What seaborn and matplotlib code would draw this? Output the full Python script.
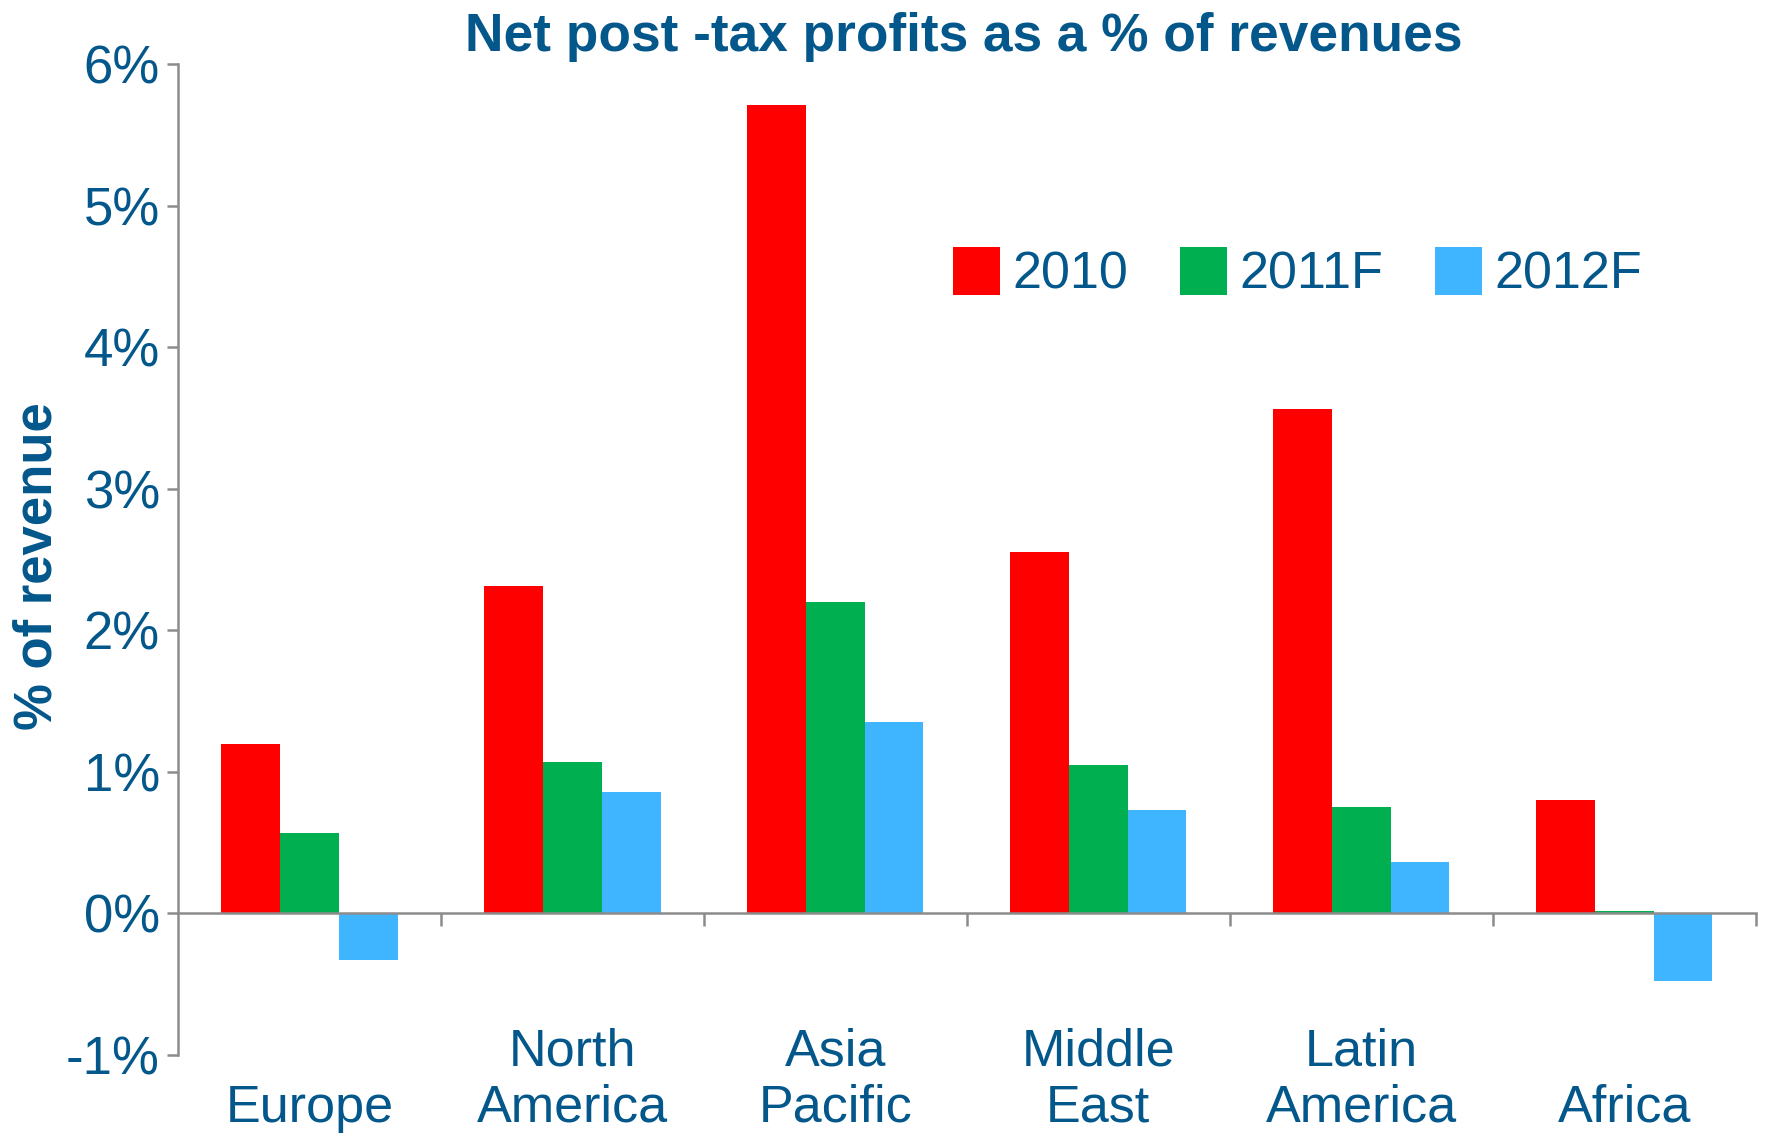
import numpy as np
import pandas as pd
import seaborn as sns
import matplotlib.pyplot as plt

# values (% of revenue)
regions = ['Europe', 'North America', 'Asia Pacific', 'Middle East', 'Latin America', 'Africa']
region_labels = ['\nEurope', 'North\nAmerica', 'Asia\nPacific', 'Middle\nEast', 'Latin\nAmerica', '\nAfrica']
years = ['2010', '2011F', '2012F']
profit_2010 = [1.20, 2.31, 5.71, 2.55, 3.56, 0.80]
profit_2011 = [0.57, 1.07, 2.20, 1.05, 0.75, 0.02]
profit_2012 = [-0.33, 0.86, 1.35, 0.73, 0.36, -0.48]
y_ticks = [-1, 0, 1, 2, 3, 4, 5, 6]
y_tick_labels = [f'{v}%' for v in y_ticks]

colors = {'2010': '#FF0000', '2011F': '#00B050', '2012F': '#40B5FF'}
text_color = '#03578B'
axis_color = '#8C8C8C'

df = pd.DataFrame({
    'region': regions * 3,
    'year': np.repeat(years, len(regions)),
    'value': profit_2010 + profit_2011 + profit_2012,
})

sns.set_theme(style='white')
plt.rcParams['font.family'] = ['Liberation Sans', 'DejaVu Sans']

fig = plt.figure(figsize=(17.68, 11.37), dpi=100)
ax = fig.add_axes([0.1007, 0.0721, 0.8923, 0.8716])

sns.barplot(data=df, x='region', y='value', hue='year', order=regions,
            hue_order=years, palette=colors, saturation=1, width=0.67,
            linewidth=0, ax=ax)

ax.set_ylim(-1, 6)
ax.set_xlim(-0.5, 5.5)
ax.set_yticks(y_ticks)
ax.set_yticklabels(y_tick_labels)
ax.set_xticks(range(len(regions)))
ax.set_xticklabels(region_labels, linespacing=1.37)
ax.set_xticks(np.arange(0.5, len(regions), 1.0), minor=True)

for side in ['top', 'right']:
    ax.spines[side].set_visible(False)
for side in ['left', 'bottom']:
    ax.spines[side].set_color(axis_color)
    ax.spines[side].set_linewidth(1.8)
ax.spines['bottom'].set_position(('data', 0))
ax.spines['bottom'].set_zorder(5)

ax.tick_params(axis='y', left=True, length=8, width=1.8, color=axis_color,
               pad=5, labelsize=38, labelcolor=text_color)
ax.tick_params(axis='x', which='major', bottom=True, length=0, pad=82,
               labelsize=37.5, labelcolor=text_color)
ax.tick_params(axis='x', which='minor', bottom=True, length=9.5, width=1.8,
               color=axis_color)

ax.set_xlabel('')
ax.set_ylabel('% of revenue', fontsize=38, fontweight='bold', color=text_color)
ax.yaxis.set_label_coords(-0.073, 0.493)

fig.text(0.545, 0.955, 'Net post -tax profits as a % of revenues', ha='center',
         va='baseline', fontsize=38.3, fontweight='bold', color=text_color)

handles, labels = ax.get_legend_handles_labels()
ax.get_legend().remove()
leg = ax.legend(handles, labels, ncol=3, frameon=False, loc='center left',
                bbox_to_anchor=(0.539, 0.7595), bbox_transform=fig.transFigure,
                fontsize=37.5, handlelength=0.9, handleheight=1.02,
                handletextpad=0.24, columnspacing=1.0, borderpad=0,
                borderaxespad=0)
for t in leg.get_texts():
    t.set_color(text_color)

fig.savefig('out.png', dpi=100)
